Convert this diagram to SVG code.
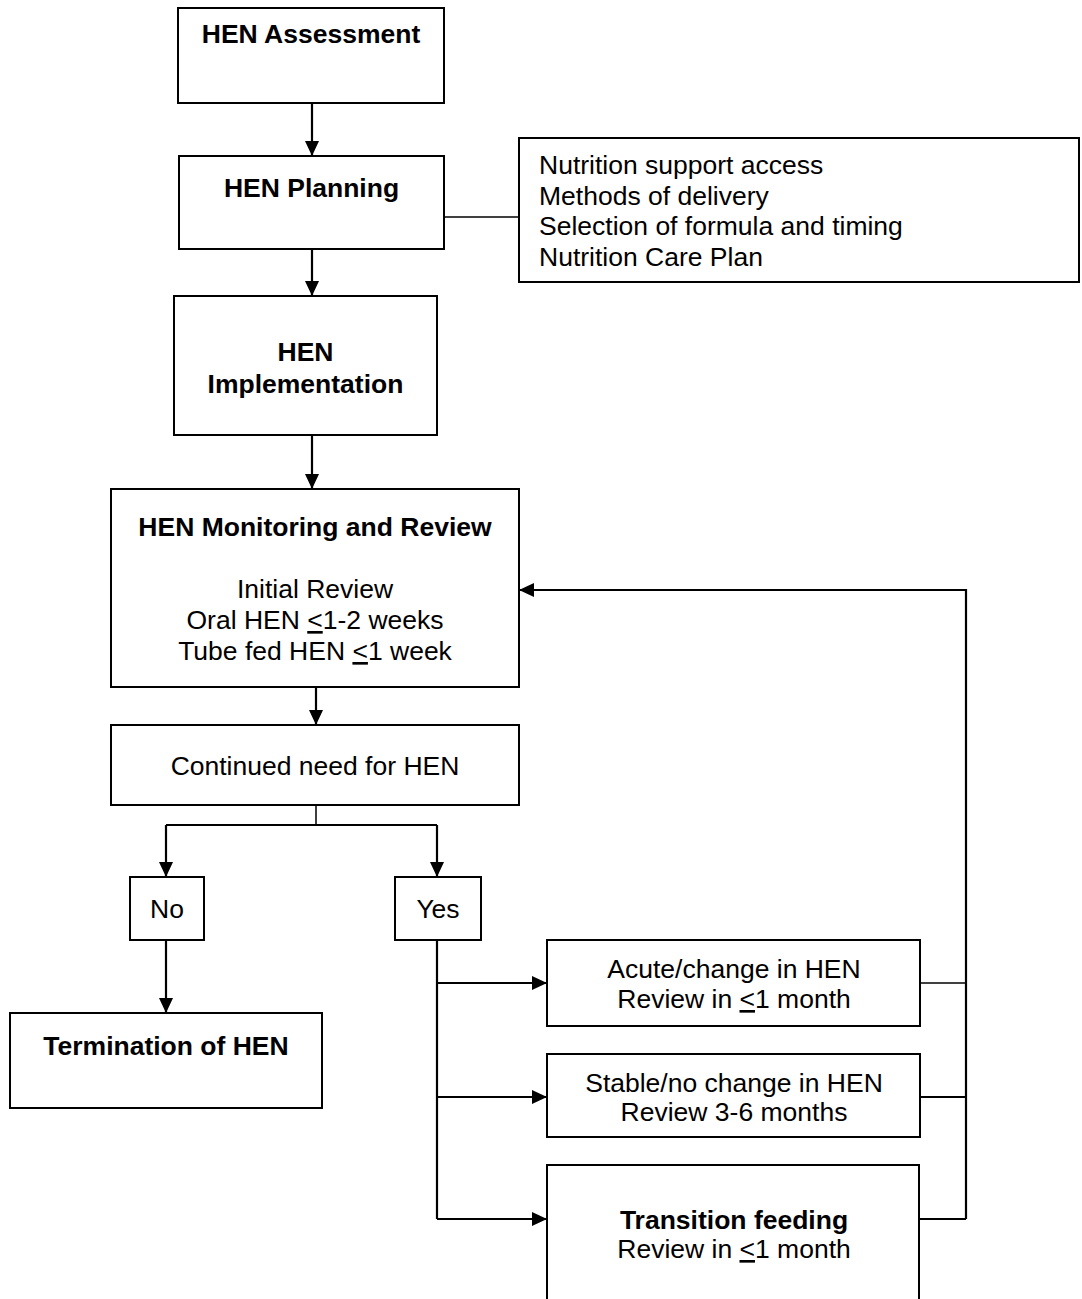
<svg xmlns="http://www.w3.org/2000/svg" width="1082" height="1299" viewBox="0 0 1082 1299">
<style>
.box{fill:#fff;stroke:#000;stroke-width:2}
.t{font-family:"Liberation Sans",Arial,sans-serif;font-size:26.5px;fill:#000}
.c{text-anchor:middle}
.b{font-weight:bold}
.u{text-decoration:underline}
.ln{fill:none;stroke:#000;stroke-width:2.2}
.th{fill:none;stroke:#000;stroke-width:1.5}
</style>
<defs>
<marker id="ah" markerUnits="userSpaceOnUse" markerWidth="16" markerHeight="14" refX="15" refY="7" orient="auto">
<path d="M0,0 L15,7 L0,14 Z" fill="#000"/>
</marker>
</defs>
<rect width="1082" height="1299" fill="#fff"/>
<g id="connectors">
<line class="ln" x1="312" y1="103" x2="312" y2="156" marker-end="url(#ah)"/>
<line class="th" x1="444" y1="217" x2="519" y2="217"/>
<line class="ln" x1="312" y1="249" x2="312" y2="296" marker-end="url(#ah)"/>
<line class="ln" x1="312" y1="435" x2="312" y2="489" marker-end="url(#ah)"/>
<line class="ln" x1="316" y1="687" x2="316" y2="725" marker-end="url(#ah)"/>
<polyline class="th" points="316,805 316,825"/>
<polyline class="ln" points="166,825 437,825"/>
<line class="ln" x1="166" y1="825" x2="166" y2="877" marker-end="url(#ah)"/>
<line class="ln" x1="437" y1="825" x2="437" y2="877" marker-end="url(#ah)"/>
<line class="ln" x1="166" y1="940" x2="166" y2="1013" marker-end="url(#ah)"/>
<line class="ln" x1="437" y1="940" x2="437" y2="1219"/>
<line class="ln" x1="437" y1="983" x2="547" y2="983" marker-end="url(#ah)"/>
<line class="ln" x1="437" y1="1097" x2="547" y2="1097" marker-end="url(#ah)"/>
<line class="ln" x1="437" y1="1219" x2="547" y2="1219" marker-end="url(#ah)"/>
<line class="th" x1="920" y1="983" x2="966" y2="983"/>
<line class="ln" x1="920" y1="1097" x2="966" y2="1097"/>
<line class="ln" x1="919" y1="1219" x2="966" y2="1219"/>
<polyline class="ln" points="966,1219 966,590 519,590" marker-end="url(#ah)"/>
</g>
<g id="assessment">
<rect class="box" x="178" y="8" width="266" height="95"/>
<text class="t c b" x="311" y="43">HEN Assessment</text>
</g>
<g id="planning">
<rect class="box" x="179" y="156" width="265" height="93"/>
<text class="t c b" x="311.5" y="197">HEN Planning</text>
</g>
<g id="planning-list">
<rect class="box" x="519" y="138" width="560" height="144"/>
<text class="t" x="539" y="174">Nutrition support access</text>
<text class="t" x="539" y="205">Methods of delivery</text>
<text class="t" x="539" y="235">Selection of formula and timing</text>
<text class="t" x="539" y="266">Nutrition Care Plan</text>
</g>
<g id="implementation">
<rect class="box" x="174" y="296" width="263" height="139"/>
<text class="t c b" x="305.5" y="361">HEN</text>
<text class="t c b" x="305.5" y="393">Implementation</text>
</g>
<g id="monitoring">
<rect class="box" x="111" y="489" width="408" height="198"/>
<text class="t c b" x="315" y="536">HEN Monitoring and Review</text>
<text class="t c" x="315" y="598">Initial Review</text>
<text class="t c" x="315" y="629">Oral HEN <tspan class="u">&lt;</tspan>1-2 weeks</text>
<text class="t c" x="315" y="660">Tube fed HEN <tspan class="u">&lt;</tspan>1 week</text>
</g>
<g id="continued">
<rect class="box" x="111" y="725" width="408" height="80"/>
<text class="t c" x="315" y="775">Continued need for HEN</text>
</g>
<g id="no">
<rect class="box" x="130" y="877" width="74" height="63"/>
<text class="t c" x="167" y="918">No</text>
</g>
<g id="yes">
<rect class="box" x="395" y="877" width="86" height="63"/>
<text class="t c" x="438" y="918">Yes</text>
</g>
<g id="termination">
<rect class="box" x="10" y="1013" width="312" height="95"/>
<text class="t c b" x="166" y="1055">Termination of HEN</text>
</g>
<g id="acute">
<rect class="box" x="547" y="940" width="373" height="86"/>
<text class="t c" x="734" y="978">Acute/change in HEN</text>
<text class="t c" x="734" y="1008">Review in <tspan class="u">&lt;</tspan>1 month</text>
</g>
<g id="stable">
<rect class="box" x="547" y="1054" width="373" height="83"/>
<text class="t c" x="734" y="1092">Stable/no change in HEN</text>
<text class="t c" x="734" y="1121">Review 3-6 months</text>
</g>
<g id="transition">
<rect class="box" x="547" y="1165" width="372" height="150"/>
<text class="t c b" x="734" y="1229">Transition feeding</text>
<text class="t c" x="734" y="1258">Review in <tspan class="u">&lt;</tspan>1 month</text>
</g>
</svg>
